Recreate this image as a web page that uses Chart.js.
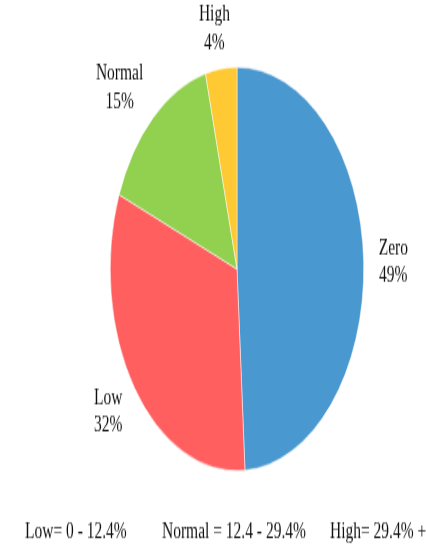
<!DOCTYPE html>
<html>
<head>
<meta charset="utf-8">
<script src="https://cdn.jsdelivr.net/npm/chart.js@4"></script>
<style>
  html, body { margin: 0; padding: 0; background: #fff; }
</style>
</head>
<body>
<!-- drawn at 426x343 and stretched vertically to 426x546, like the source image -->
<canvas id="pieChart" width="426" height="343" style="width:426px;height:546px;display:block;"></canvas>
<script>
// Chart data
const categories = ["Zero", "Low", "Normal", "High"];
const shares = [49, 32, 15, 4];
const sliceColors = ["#4A98D0", "#FF5F5F", "#92D050", "#FFC933"];
const footNotes = ["Low= 0 - 12.4%", "Normal = 12.4 - 29.4%", "High= 29.4% +"];

const fontFamily = "'Liberation Serif', 'Times New Roman', serif";

// Draw the name + percentage outside each slice
const outsideLabels = {
  id: "outsideLabels",
  afterDatasetsDraw(chart) {
    const ctx = chart.ctx;
    const meta = chart.getDatasetMeta(0);
    ctx.save();
    ctx.font = "15.5px " + fontFamily;
    ctx.fillStyle = "#111";
    ctx.textAlign = "center";
    ctx.textBaseline = "middle";
    const lineH = 17.5;
    meta.data.forEach((arc, i) => {
      const mid = (arc.startAngle + arc.endAngle) / 2;
      const dx = Math.cos(mid);
      const dy = Math.sin(mid);
      const w = ctx.measureText(categories[i]).width;
      const dist = arc.outerRadius + 15;
      // push the label box away from the pie edge
      const side = Math.sign(dx) * Math.min(1, Math.abs(dx) * 2.5);
      const x = arc.x + dx * dist + side * w / 2;
      const y = arc.y + dy * dist + dy * lineH * 0.6;
      ctx.fillText(categories[i], x, y - lineH / 2);
      ctx.fillText(shares[i] + "%", x, y + lineH / 2);
    });

    // range notes under the pie
    ctx.textAlign = "left";
    const noteX = [25, 162, 330];
    footNotes.forEach((t, i) => {
      ctx.fillText(t, noteX[i], 334);
    });
    ctx.restore();
  }
};

let ctx = document.getElementById("pieChart").getContext("2d");

const config = {
  type: "pie",
  data: {
    labels: categories,
    datasets: [
      {
        data: shares,
        backgroundColor: sliceColors,
        borderColor: "#ffffff",
        borderWidth: 0.5,
      },
    ],
  },
  options: {
    responsive: false,
    animation: false,
    devicePixelRatio: 1,
    layout: {
      padding: { left: 110, right: 62, top: 42, bottom: 47 },
    },
    plugins: {
      legend: { display: false },
      tooltip: { enabled: false },
    },
  },
  plugins: [outsideLabels],
};

let myChart = new Chart(ctx, config);
</script>
</body>
</html>
